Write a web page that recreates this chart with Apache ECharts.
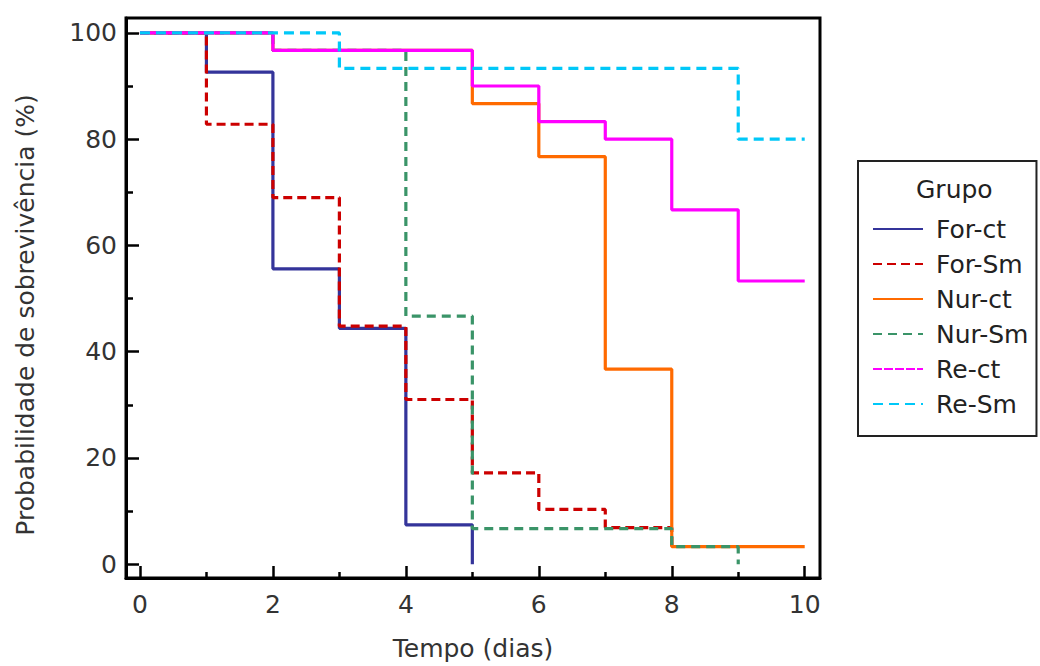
<!DOCTYPE html>
<html>
<head>
<meta charset="utf-8">
<title>Probabilidade de sobrevivência</title>
<script src="https://cdn.jsdelivr.net/npm/echarts@6.0.0/dist/echarts.min.js"></script>
<style>
  html, body { margin: 0; padding: 0; background: #fff; }
  #chart { width: 1040px; height: 666px; }
</style>
</head>
<body>
<div id="chart"></div>
<script>
// Kaplan-Meier survival steps: day of each event and the survival (%) from that day on
const forCtDays = [0, 1, 2, 3, 4, 5];
const forCtSurv = [100, 92.6, 55.6, 44.4, 7.4, 0];

const forSmDays = [0, 1, 2, 3, 4, 5, 6, 7, 8];
const forSmSurv = [100, 82.8, 69.0, 44.8, 31.0, 17.2, 10.3, 6.9, 3.4];

const nurCtDays = [0, 2, 5, 6, 7, 8, 10];
const nurCtSurv = [100, 96.7, 86.7, 76.7, 36.7, 3.3, 3.3];

const nurSmDays = [0, 2, 4, 5, 8, 9];
const nurSmSurv = [100, 96.7, 46.7, 6.7, 3.3, 0];

const reCtDays = [0, 2, 5, 6, 7, 8, 9, 10];
const reCtSurv = [100, 96.7, 90.0, 83.3, 80.0, 66.7, 53.3, 53.3];

const reSmDays = [0, 3, 9, 10];
const reSmSurv = [100, 93.3, 80.0, 80.0];

const groupNames = ['For-ct', 'For-Sm', 'Nur-ct', 'Nur-Sm', 'Re-ct', 'Re-Sm'];

const xMajorTicks = [0, 2, 4, 6, 8, 10];
const xMinorTicks = [1, 3, 5, 7, 9];
const yMajorTicks = [0, 20, 40, 60, 80, 100];
const yMinorTicks = [10, 30, 50, 70, 90];

const FONT = 'DejaVu Sans';

function pairs(days, surv) {
  return days.map((d, i) => [d, surv[i]]);
}

const styles = [
  { color: '#34349a', type: 'solid' },
  { color: '#cc0000', type: [9, 5] },
  { color: '#ff6a00', type: 'solid' },
  { color: '#3a9468', type: [9, 6] },
  { color: '#ff00ff', type: 'solid' },
  { color: '#00c8f8', type: [10, 6] }
];

const curves = [
  pairs(forCtDays, forCtSurv),
  pairs(forSmDays, forSmSurv),
  pairs(nurCtDays, nurCtSurv),
  pairs(nurSmDays, nurSmSurv),
  pairs(reCtDays, reCtSurv),
  pairs(reSmDays, reSmSurv)
];

const X_MIN = -0.21, X_MAX = 10.23;
const Y_MIN = -2.6, Y_MAX = 102.8;

const tickStyle = { color: '#000', width: 2.5 };

const chart = echarts.init(document.getElementById('chart'), null, { renderer: 'svg' });

chart.setOption({
  animation: false,
  backgroundColor: '#ffffff',
  textStyle: { fontFamily: FONT },
  title: {
    text: 'Grupo',
    left: 916,
    top: 177,
    padding: 0,
    textStyle: { fontFamily: FONT, fontSize: 25, fontWeight: 'normal', color: '#222' }
  },
  grid: {
    left: 126, top: 18, width: 694, height: 562,
    show: true, borderColor: '#000', borderWidth: 3, backgroundColor: '#fff'
  },
  legend: {
    orient: 'vertical',
    left: 858,
    top: 161,
    padding: [55, 8, 19, 14],
    itemGap: 9,
    itemWidth: 50,
    itemHeight: 14,
    borderColor: '#222',
    borderWidth: 2,
    data: groupNames.map((name) => (name === 'Re-ct'
      ? { name: name, lineStyle: { type: [9, 2] } }
      : { name: name })),
    lineStyle: { width: 2 },
    itemStyle: { opacity: 0 },
    textStyle: { fontFamily: FONT, fontSize: 25, color: '#222', lineHeight: 26, padding: [0, 0, 0, 8] }
  },
  xAxis: [
    {
      type: 'value', min: X_MIN, max: X_MAX,
      name: 'Tempo (dias)', nameLocation: 'middle', nameGap: 58,
      nameTextStyle: { fontFamily: FONT, fontSize: 25, color: '#333' },
      splitLine: { show: false },
      axisLine: { show: true, onZero: false, lineStyle: { color: '#000', width: 3 } },
      axisTick: { show: true, inside: true, length: 12, customValues: xMajorTicks, lineStyle: tickStyle },
      axisLabel: { customValues: xMajorTicks, margin: 14, fontFamily: FONT, fontSize: 25, color: '#333' }
    },
    {
      type: 'value', min: X_MIN, max: X_MAX, position: 'bottom',
      splitLine: { show: false },
      axisLine: { show: false, onZero: false },
      axisTick: { show: true, inside: true, length: 6, customValues: xMinorTicks, lineStyle: tickStyle },
      axisLabel: { show: false }
    }
  ],
  yAxis: [
    {
      type: 'value', min: Y_MIN, max: Y_MAX,
      name: 'Probabilidade de sobrevivência (%)', nameLocation: 'middle', nameGap: 88,
      nameTextStyle: { fontFamily: FONT, fontSize: 25, color: '#333', padding: [0, 34, 0, 0] },
      splitLine: { show: false },
      axisLine: { show: true, onZero: false, lineStyle: { color: '#000', width: 3 } },
      axisTick: { show: true, inside: true, length: 13, customValues: yMajorTicks, lineStyle: tickStyle },
      axisLabel: { customValues: yMajorTicks, margin: 9, fontFamily: FONT, fontSize: 25, color: '#333' }
    },
    {
      type: 'value', min: Y_MIN, max: Y_MAX, position: 'left',
      splitLine: { show: false },
      axisLine: { show: false, onZero: false },
      axisTick: { show: true, inside: true, length: 7, customValues: yMinorTicks, lineStyle: tickStyle },
      axisLabel: { show: false }
    }
  ],
  series: groupNames.map((name, i) => ({
    name: name,
    type: 'line',
    step: 'end',
    xAxisIndex: 0,
    yAxisIndex: 0,
    symbol: 'none',
    color: styles[i].color,
    lineStyle: { color: styles[i].color, width: 3.2, type: styles[i].type },
    data: curves[i]
  }))
});
</script>
</body>
</html>
